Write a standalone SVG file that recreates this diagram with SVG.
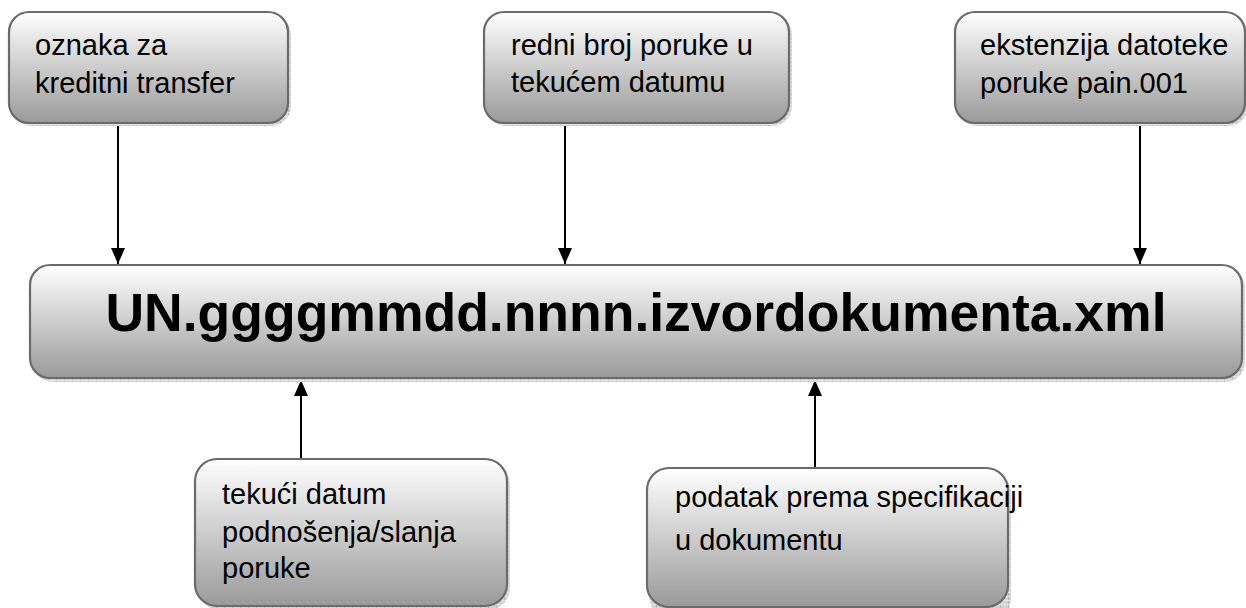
<svg xmlns="http://www.w3.org/2000/svg" width="1246" height="608" viewBox="0 0 1246 608">
<style>
.box{fill:url(#g);stroke:#6b6b6b;stroke-width:2.2}
.sh{fill:url(#hatch)}
.t{font-family:"Liberation Sans",Arial,sans-serif;font-size:29px;fill:#000}
.title{font-family:"Liberation Sans",Arial,sans-serif;font-size:53.5px;font-weight:bold;fill:#000}
.c{stroke:#000;stroke-width:2;fill:none;marker-end:url(#ah)}
</style>
<defs>
<linearGradient id="g" x1="0" y1="0" x2="0" y2="1">
<stop offset="0" stop-color="#ffffff"/>
<stop offset="1" stop-color="#9a9a9a"/>
</linearGradient>
<pattern id="hatch" width="8" height="4" patternUnits="userSpaceOnUse">
<rect width="8" height="4" fill="#d4d4d4"/>
<rect width="1" height="4" fill="#b8b8b8"/>
<rect y="0" width="8" height="1" fill="#e4e4e4"/>
</pattern>
<marker id="ah" viewBox="0 0 16 14" refX="16" refY="7" markerWidth="16" markerHeight="14" markerUnits="userSpaceOnUse" orient="auto">
<path d="M0,0 L16,7 L0,14 Z" fill="#000"/>
</marker>
</defs>
<g id="connectors">
<line class="c" x1="118" y1="123" x2="118" y2="264"/>
<line class="c" x1="565" y1="124" x2="565" y2="264"/>
<line class="c" x1="1140" y1="123" x2="1140" y2="264"/>
<line class="c" x1="301" y1="459" x2="301" y2="380"/>
<line class="c" x1="815" y1="468" x2="815" y2="380"/>
</g>
<g id="node-oznaka">
<rect class="sh" x="12" y="15" width="279" height="111" rx="20"/>
<rect class="box" x="9" y="12" width="279" height="111" rx="20"/>
<text class="t" x="35" y="55">oznaka za</text>
<text class="t" x="35" y="93">kreditni transfer</text>
</g>
<g id="node-redni">
<rect class="sh" x="487" y="15" width="305" height="111" rx="20"/>
<rect class="box" x="484" y="12" width="305" height="111" rx="20"/>
<text class="t" x="511" y="55">redni broj poruke u</text>
<text class="t" x="511" y="92">tekućem datumu</text>
</g>
<g id="node-ekstenzija">
<rect class="sh" x="958" y="15" width="290" height="111" rx="20"/>
<rect class="box" x="955" y="12" width="290" height="111" rx="20"/>
<text class="t" x="980" y="55">ekstenzija datoteke</text>
<text class="t" x="980" y="93">poruke pain.001</text>
</g>
<g id="node-main">
<rect class="sh" x="33" y="268" width="1212" height="114" rx="20"/>
<rect class="box" x="30" y="265" width="1212" height="113" rx="20"/>
<text class="title" x="636" y="331" text-anchor="middle">UN.ggggmmdd.nnnn.izvordokumenta.xml</text>
</g>
<g id="node-tekuci">
<rect class="sh" x="198" y="462" width="312" height="148" rx="22"/>
<rect class="box" x="195" y="459" width="312" height="147" rx="22"/>
<text class="t" x="222" y="504">tekući datum</text>
<text class="t" x="222" y="542">podnošenja/slanja</text>
<text class="t" x="222" y="578">poruke</text>
</g>
<g id="node-podatak">
<rect class="sh" x="650" y="471" width="361" height="150" rx="22"/>
<rect class="box" x="647" y="468" width="361" height="139" rx="22"/>
<text class="t" x="675" y="507">podatak prema specifikaciji</text>
<text class="t" x="675" y="550">u dokumentu</text>
</g>
</svg>
